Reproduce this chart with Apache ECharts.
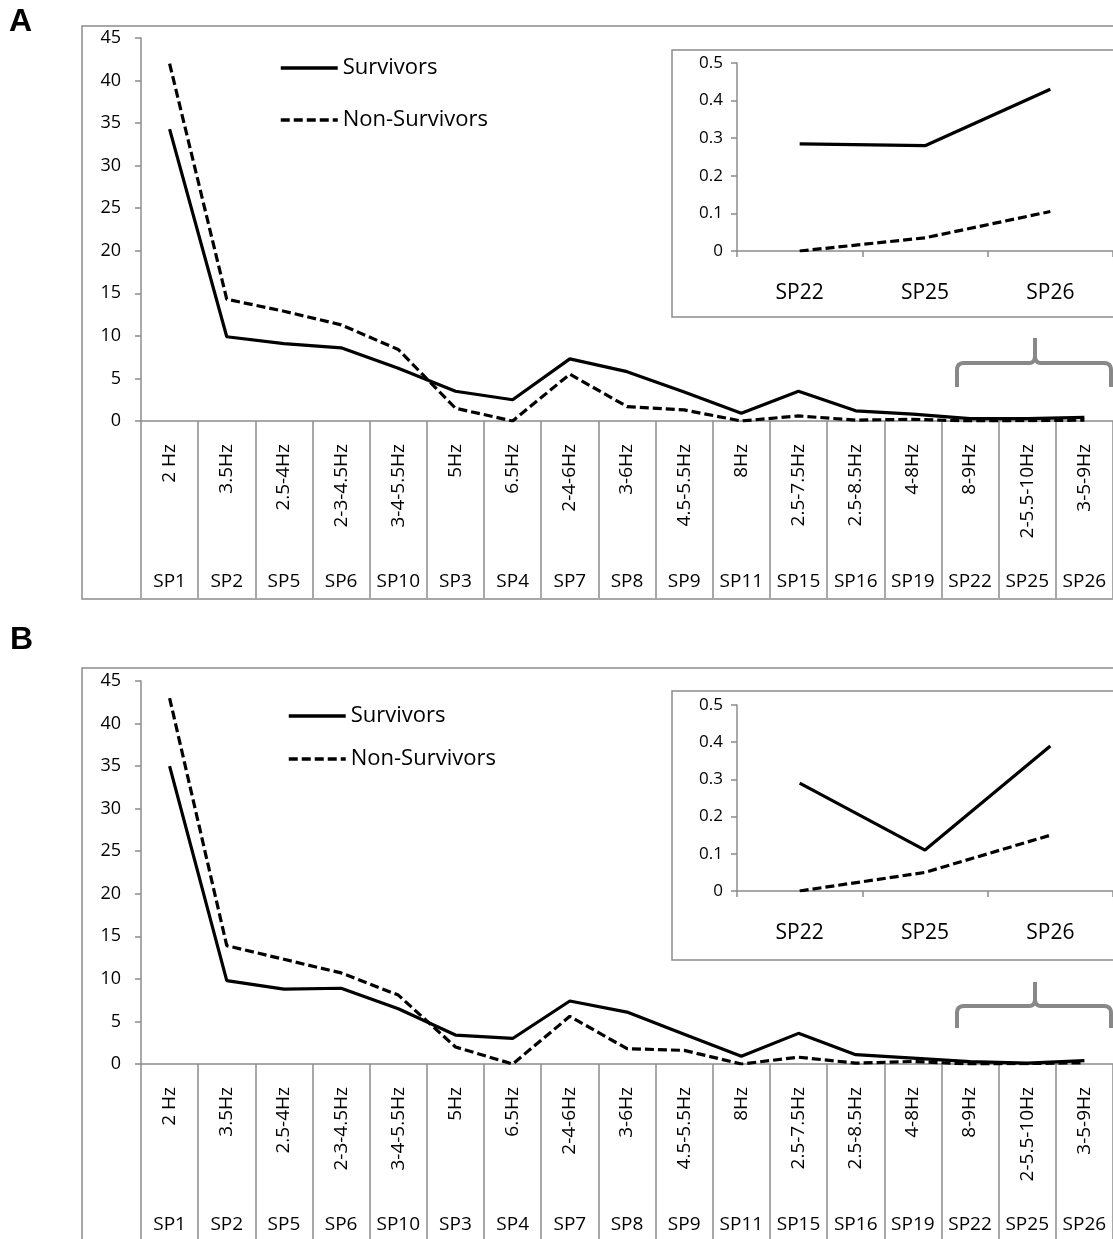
<!DOCTYPE html>
<html><head><meta charset="utf-8">
<script src="https://cdn.jsdelivr.net/npm/echarts@6/dist/echarts.min.js"></script>
<style>html,body{margin:0;padding:0;background:#fff}#c{width:1113px;height:1239px}</style>
</head><body><div id="c"></div>
<script>
// ---- data ----
const spLabels = ['SP1','SP2','SP5','SP6','SP10','SP3','SP4','SP7','SP8','SP9','SP11','SP15','SP16','SP19','SP22','SP25','SP26'];
const hzLabels = ['2 Hz','3.5Hz','2.5-4Hz','2-3-4.5Hz','3-4-5.5Hz','5Hz','6.5Hz','2-4-6Hz','3-6Hz','4.5-5.5Hz','8Hz','2.5-7.5Hz','2.5-8.5Hz','4-8Hz','8-9Hz','2-5.5-10Hz','3-5-9Hz'];
const survivorsA    = [34.3, 9.9, 9.1, 8.6, 6.2, 3.5, 2.5, 7.3, 5.8, 3.4, 0.9, 3.5, 1.2, 0.8, 0.285, 0.28, 0.43];
const nonSurvivorsA = [42.0, 14.3, 12.9, 11.3, 8.4, 1.5, 0.0, 5.5, 1.7, 1.3, 0.0, 0.6, 0.1, 0.2, 0.0, 0.035, 0.105];
const survivorsB    = [35.0, 9.8, 8.8, 8.9, 6.5, 3.4, 3.0, 7.4, 6.1, 3.5, 0.9, 3.6, 1.1, 0.7, 0.29, 0.11, 0.39];
const nonSurvivorsB = [43.0, 13.9, 12.3, 10.7, 8.1, 2.0, 0.0, 5.6, 1.8, 1.6, 0.0, 0.8, 0.1, 0.3, 0.0, 0.05, 0.15];
const insetCategories = ['SP22','SP25','SP26'];
const insetStart = spLabels.indexOf('SP22');
const mainYMin = 0, mainYMax = 45, mainYInterval = 5;
const insetYMin = 0, insetYMax = 0.5, insetYInterval = 0.1;
const seriesNames = ['Survivors','Non-Survivors'];

// ---- styling ----
const FONT = 'Open Sans';
const GRAY = '#8c8c8c';
const DASH = [9,4];
const solid = {color:'#000', width:3.2, type:'solid'};
const dashed = {color:'#000', width:3.2, type:DASH};

function mainAxes(grid){
  return {
    x: [
      {type:'category', gridIndex:grid, data:hzLabels, boundaryGap:true, position:'bottom',
       axisLine:{show:true, lineStyle:{color:GRAY, width:1.5}},
       axisTick:{show:true, interval:0, length:177, lineStyle:{color:GRAY, width:1.5}},
       axisLabel:{interval:0, rotate:90, margin:23, fontSize:19, color:'#000', fontFamily:FONT}},
      {type:'category', gridIndex:grid, data:spLabels, boundaryGap:true, position:'bottom',
       axisLine:{show:false}, axisTick:{show:false},
       axisLabel:{interval:0, margin:151, fontSize:19, color:'#000', fontFamily:FONT}}
    ],
    y: {type:'value', gridIndex:grid, min:mainYMin, max:mainYMax, interval:mainYInterval,
        axisLine:{show:true, lineStyle:{color:GRAY, width:1.5}},
        axisTick:{show:true, length:6, lineStyle:{color:GRAY, width:1.5}},
        splitLine:{show:false},
        axisLabel:{margin:20, fontSize:18, color:'#000', fontFamily:FONT}}
  };
}
function insetAxes(grid){
  return {
    x: {type:'category', gridIndex:grid, data:insetCategories, boundaryGap:true,
        axisLine:{show:true, lineStyle:{color:GRAY, width:1.5}},
        axisTick:{show:true, interval:0, length:6, lineStyle:{color:GRAY, width:1.5}},
        axisLabel:{interval:0, margin:32, fontSize:21, color:'#000', fontFamily:FONT}},
    y: {type:'value', gridIndex:grid, min:insetYMin, max:insetYMax, interval:insetYInterval,
        axisLine:{show:true, lineStyle:{color:GRAY, width:1.5}},
        axisTick:{show:true, length:6, lineStyle:{color:GRAY, width:1.5}},
        splitLine:{show:false},
        axisLabel:{margin:14, fontSize:17, color:'#000', fontFamily:FONT}}
  };
}
const mA = mainAxes(0), iA = insetAxes(1), mB = mainAxes(2), iB = insetAxes(3);

function line(name, data, xi, yi, style){
  return {type:'line', name:name, data:data, xAxisIndex:xi, yAxisIndex:yi,
          symbol:'none', lineStyle:style, itemStyle:{color:'#000'}, z:5, animation:false};
}
function legend(left, top, gap){
  return {
    data:[
      {name:seriesNames[0], lineStyle:{width:3.5, type:'solid', color:'#000'}},
      {name:seriesNames[1], lineStyle:{width:3.5, type:DASH, color:'#000'}}
    ],
    orient:'vertical', left:left, top:top, itemGap:gap, padding:0,
    itemWidth:57, itemHeight:14, selectedMode:false,
    itemStyle:{color:'rgba(0,0,0,0)', borderWidth:0, opacity:0},
    textStyle:{fontSize:22, fontFamily:FONT, color:'#000', lineHeight:26}};
}
// curly bracket drawn as polylines (annotation, not data)
function quad(p0, p1, p2, n){
  const pts = [];
  for (let i = 1; i <= n; i++){
    const t = i / n, u = 1 - t;
    pts.push([u*u*p0[0] + 2*u*t*p1[0] + t*t*p2[0], u*u*p0[1] + 2*u*t*p1[1] + t*t*p2[1]]);
  }
  return pts;
}
function bracketHalf(xEnd, xc, yTop, yMid, yBot){
  const s = xEnd < xc ? 1 : -1, r = 7;
  let pts = [[xEnd, yBot], [xEnd, yMid + r]];
  pts = pts.concat(quad([xEnd, yMid + r], [xEnd, yMid], [xEnd + s*r, yMid], 6));
  pts.push([xc - s*6, yMid]);
  pts = pts.concat(quad([xc - s*6, yMid], [xc, yMid], [xc, yMid - 7], 6));
  pts.push([xc, yTop]);
  return {type:'polyline', silent:true, z:10, shape:{points:pts},
          style:{fill:null, stroke:'#888', lineWidth:4, lineJoin:'round'}};
}
function bracket(yTop, yMid, yBot){
  const xl = 957, xr = 1111, xc = 1035;
  return [bracketHalf(xl, xc, yTop, yMid, yBot), bracketHalf(xr, xc, yTop, yMid, yBot)];
}

const option = {
  backgroundColor:'#fff',
  animation:false,
  grid:[
    {left:141, top:38, width:983, height:383},
    {left:737, top:63, width:376, height:188},
    {left:141, top:681, width:983, height:383},
    {left:737, top:705, width:376, height:186}
  ],
  xAxis:[mA.x[0], mA.x[1], iA.x, mB.x[0], mB.x[1], iB.x],
  yAxis:[mA.y, iA.y, mB.y, iB.y],
  legend:[legend(279, 55, 26), legend(287, 703, 17)],
  series:[
    line('Survivors', survivorsA, 0, 0, solid),
    line('Non-Survivors', nonSurvivorsA, 0, 0, dashed),
    line('Survivors', survivorsA.slice(insetStart), 2, 1, solid),
    line('Non-Survivors', nonSurvivorsA.slice(insetStart), 2, 1, dashed),
    line('Survivors', survivorsB, 3, 2, solid),
    line('Non-Survivors', nonSurvivorsB, 3, 2, dashed),
    line('Survivors', survivorsB.slice(insetStart), 5, 3, solid),
    line('Non-Survivors', nonSurvivorsB.slice(insetStart), 5, 3, dashed)
  ],
  graphic:[
    {type:'rect', silent:true, z:-1, shape:{x:82, y:26, width:1100, height:573}, style:{fill:'#fff', stroke:GRAY, lineWidth:1.5}},
    {type:'rect', silent:true, z:0, shape:{x:672, y:50, width:500, height:267}, style:{fill:'#fff', stroke:GRAY, lineWidth:1.5}},
    {type:'rect', silent:true, z:-1, shape:{x:82, y:668, width:1100, height:573}, style:{fill:'#fff', stroke:GRAY, lineWidth:1.5}},
    {type:'rect', silent:true, z:0, shape:{x:672, y:691, width:500, height:269}, style:{fill:'#fff', stroke:GRAY, lineWidth:1.5}},
    {type:'text', silent:true, x:9, y:6, style:{text:'A', fontSize:32, fontWeight:'bold', fontFamily:'Liberation Sans', fill:'#000'}},
    {type:'text', silent:true, x:10, y:624, style:{text:'B', fontSize:32, fontWeight:'bold', fontFamily:'Liberation Sans', fill:'#000'}}
  ].concat(bracket(338, 363, 387), bracket(982, 1006, 1028))
};
const chart = echarts.init(document.getElementById('c'), null, {renderer:'canvas'});
chart.setOption(option);
</script>
</body></html>
